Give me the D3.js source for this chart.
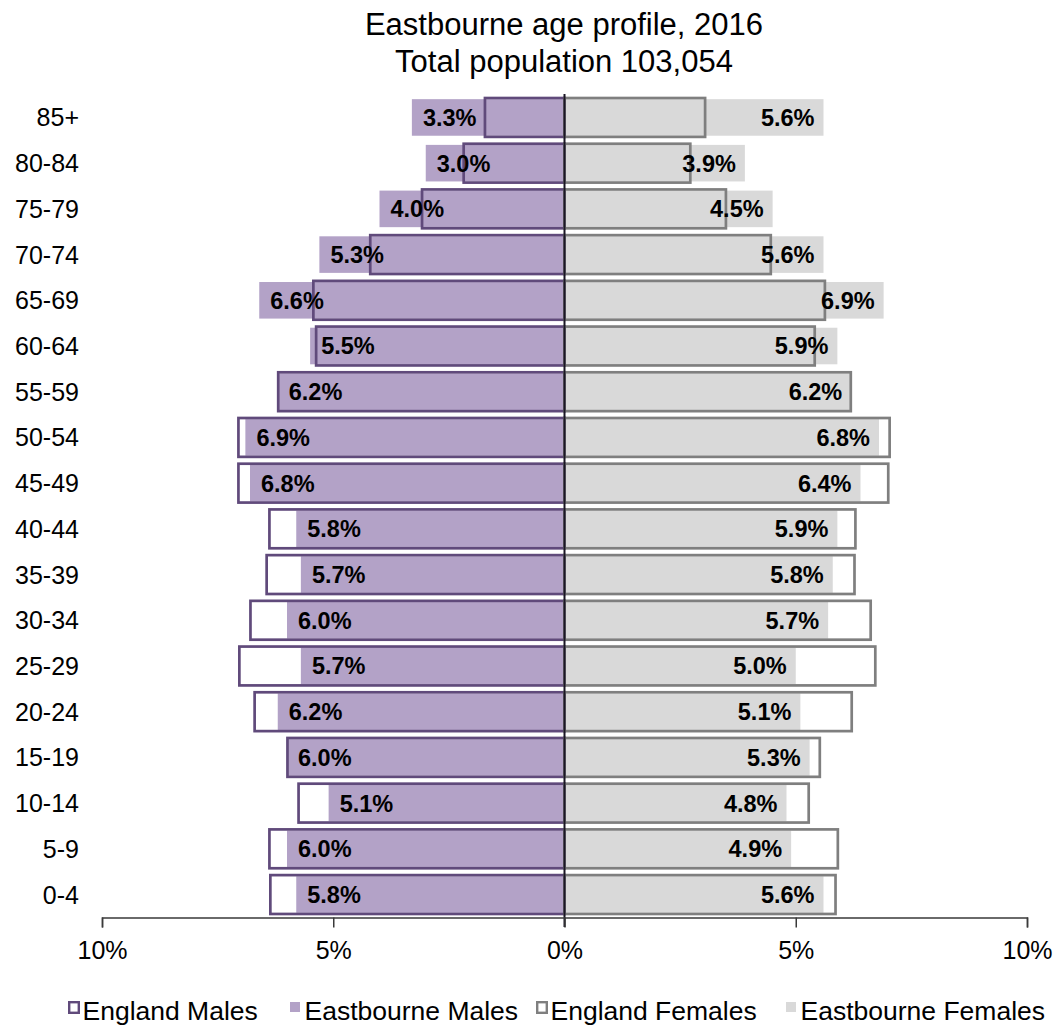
<!DOCTYPE html>
<html>
<head>
<meta charset="utf-8">
<script src="https://cdn.jsdelivr.net/npm/d3@7"></script>
<style>
  html, body { margin: 0; padding: 0; background: #fff; }
  svg { display: block; font-family: "Liberation Sans", Arial, sans-serif; }
</style>
</head>
<body>
<svg id="chart" width="1061" height="1026"></svg>
<script>
// ---- data ----
const categories = ["85+","80-84","75-79","70-74","65-69","60-64","55-59","50-54","45-49","40-44","35-39","30-34","25-29","20-24","15-19","10-14","5-9","0-4"];
const eastbourneMales   = [3.3,3.0,4.0,5.3,6.6,5.5,6.2,6.9,6.8,5.8,5.7,6.0,5.7,6.2,6.0,5.1,6.0,5.8];
const eastbourneFemales = [5.6,3.9,4.5,5.6,6.9,5.9,6.2,6.8,6.4,5.9,5.8,5.7,5.0,5.1,5.3,4.8,4.9,5.6];
const englandMales      = [1.72,2.18,3.08,4.2,5.43,5.37,6.19,7.05,7.05,6.38,6.44,6.79,7.03,6.7,5.99,5.75,6.38,6.36];
const englandFemales    = [3.04,2.72,3.49,4.46,5.63,5.41,6.19,7.03,7.0,6.29,6.27,6.62,6.72,6.21,5.52,5.28,5.91,5.86];
const tickValues = [-10,-5,0,5,10];
const tickLabels = ["10%","5%","0%","5%","10%"];
const legendLabels = ["England Males","Eastbourne Males","England Females","Eastbourne Females"];
const titleLines = ["Eastbourne age profile, 2016","Total population 103,054"];

// ---- styles ----
const purpleFill = "#b3a2c7", purpleLine = "#604a7b";
const greyFill = "#d9d9d9", greyLine = "#7f7f7f";

const svg = d3.select("#chart");
const x = d3.scaleLinear().domain([-10, 10]).range([102, 1027]);
const y = d3.scaleBand().domain(categories).range([94.6, 917.4]).padding(0);
const bw = y.bandwidth();
const fillH = bw * 0.8, lineH = bw * 0.85;

const rows = categories.map((c, i) => ({
  c, em: eastbourneMales[i], ef: eastbourneFemales[i], gm: englandMales[i], gf: englandFemales[i]
}));

// title
svg.append("g").selectAll("text").data(titleLines).join("text")
  .attr("x", 564).attr("y", (d, i) => 35 + i * 37)
  .attr("text-anchor", "middle").attr("font-size", 31).attr("fill", "#000")
  .text(d => d);

// Eastbourne filled bars
const g = svg.append("g");
g.selectAll("rect.em").data(rows).join("rect").attr("class", "em")
  .attr("x", d => x(-d.em)).attr("width", d => x(0) - x(-d.em))
  .attr("y", d => y(d.c) + (bw - fillH) / 2).attr("height", fillH)
  .attr("fill", purpleFill);
g.selectAll("rect.ef").data(rows).join("rect").attr("class", "ef")
  .attr("x", x(0)).attr("width", d => x(d.ef) - x(0))
  .attr("y", d => y(d.c) + (bw - fillH) / 2).attr("height", fillH)
  .attr("fill", greyFill);

// England outline bars
g.selectAll("rect.gm").data(rows).join("rect").attr("class", "gm")
  .attr("x", d => x(-d.gm)).attr("width", d => x(0) - x(-d.gm))
  .attr("y", d => y(d.c) + (bw - lineH) / 2).attr("height", lineH)
  .attr("fill", "none").attr("stroke", purpleLine).attr("stroke-width", 2.7);
g.selectAll("rect.gf").data(rows).join("rect").attr("class", "gf")
  .attr("x", x(0)).attr("width", d => x(d.gf) - x(0))
  .attr("y", d => y(d.c) + (bw - lineH) / 2).attr("height", lineH)
  .attr("fill", "none").attr("stroke", greyLine).attr("stroke-width", 2.7);

// data labels
g.selectAll("text.lm").data(rows).join("text").attr("class", "lm")
  .attr("x", d => x(-d.em) + 11).attr("y", d => y(d.c) + bw / 2)
  .attr("dy", "0.36em").attr("font-size", 23.5).attr("font-weight", "bold")
  .attr("fill", "#000").attr("text-anchor", "start")
  .text(d => d.em.toFixed(1) + "%");
g.selectAll("text.lf").data(rows).join("text").attr("class", "lf")
  .attr("x", d => x(d.ef) - 9).attr("y", d => y(d.c) + bw / 2)
  .attr("dy", "0.36em").attr("font-size", 23.5).attr("font-weight", "bold")
  .attr("fill", "#000").attr("text-anchor", "end")
  .text(d => d.ef.toFixed(1) + "%");

// category labels
svg.append("g").selectAll("text").data(categories).join("text")
  .attr("x", 79).attr("y", d => y(d) + bw / 2).attr("dy", "0.36em")
  .attr("text-anchor", "end").attr("font-size", 25).attr("fill", "#000")
  .text(d => d);

// center line
svg.append("line").attr("x1", x(0)).attr("x2", x(0)).attr("y1", 94).attr("y2", 927)
  .attr("stroke", "#1a1624").attr("stroke-width", 2);

// x axis
const axisY = 917.5;
const axis = d3.axisBottom(x).tickValues(tickValues).tickSize(10)
  .tickFormat((d, i) => tickLabels[i]);
const ag = svg.append("g").attr("transform", `translate(0,${axisY})`).call(axis);
ag.select(".domain").attr("stroke", "#3a3a3a").attr("stroke-width", 1.5);
ag.selectAll(".tick line").attr("stroke", "#3a3a3a").attr("stroke-width", 1.5);
ag.selectAll(".tick text").attr("font-size", 25).attr("font-family", "Liberation Sans, Arial, sans-serif")
  .attr("fill", "#000").attr("y", 24).attr("dy", "0.71em");

// legend
const legendX = [68, 290, 536, 786];
const lg = svg.append("g");
legendLabels.forEach((lab, i) => {
  const sx = legendX[i];
  if (i % 2 === 0) {
    lg.append("rect").attr("x", sx + 1.2).attr("y", 1002.2).attr("width", 9.6).attr("height", 10.6)
      .attr("fill", "none").attr("stroke", i === 0 ? purpleLine : greyLine).attr("stroke-width", 2.4);
  } else {
    lg.append("rect").attr("x", sx).attr("y", 1002).attr("width", 10).attr("height", 10)
      .attr("fill", i === 1 ? purpleFill : greyFill);
  }
  lg.append("text").attr("x", sx + 14.5).attr("y", 1019.5).attr("font-size", 26.5).attr("fill", "#000").text(lab);
});
</script>
</body>
</html>
